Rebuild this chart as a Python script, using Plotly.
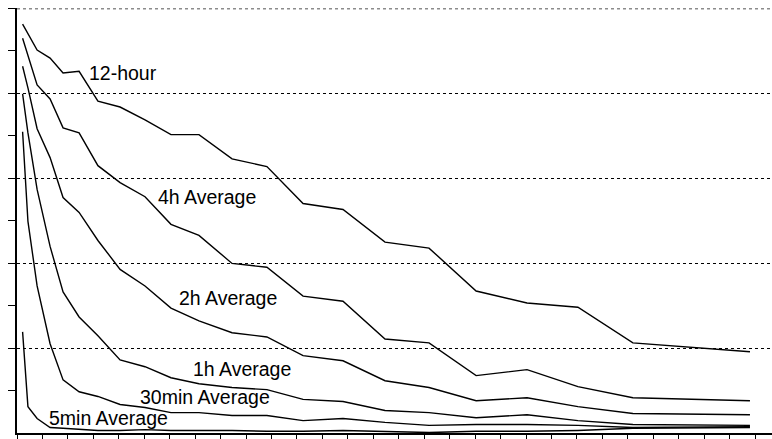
import plotly.graph_objects as go

# x positions (axis units, one tick per unit)
x_vals = [0.22, 0.43, 0.79, 1.30, 1.81, 2.44, 3.18, 4.05, 5.03, 6.05, 7.15,
          8.45, 9.82, 11.24, 12.81, 14.46, 16.19, 18.04, 20.04, 22.04, 24.2, 28.8]

h12 = [96.3, 94.1, 90.2, 88.3, 84.8, 85.2, 78.2, 76.8, 73.8, 70.3, 70.3,
       64.6, 62.8, 54.1, 52.7, 45.0, 43.6, 33.5, 30.7, 29.7, 21.3, 19.2]
h4 = [93.0, 88.8, 82.0, 78.7, 71.9, 70.7, 63.0, 59.0, 55.7, 49.2, 46.6,
      40.0, 39.1, 32.3, 31.1, 22.2, 21.3, 13.6, 15.0, 11.0, 8.4, 7.7]
h2 = [86.4, 81.3, 71.7, 64.9, 55.5, 52.0, 45.4, 38.6, 34.7, 29.5, 26.5,
      23.7, 22.7, 18.3, 17.1, 12.4, 10.8, 7.7, 8.4, 6.3, 4.7, 4.4]
h1 = [79.9, 70.7, 57.4, 44.0, 33.3, 27.4, 23.0, 17.3, 15.7, 13.1, 11.7,
      10.8, 10.3, 8.0, 7.5, 5.4, 4.9, 3.7, 4.4, 3.0, 2.1, 1.9]
m30 = [71.0, 49.9, 34.7, 21.1, 12.6, 9.8, 8.7, 6.8, 6.1, 4.9, 4.9,
       4.2, 4.2, 3.0, 3.5, 2.6, 1.9, 2.1, 2.1, 1.9, 1.4, 1.6]
m5 = [23.9, 6.3, 3.5, 1.4, 1.2, 0.9, 0.7, 0.7, 0.9, 0.7, 0.7,
      0.7, 0.5, 0.5, 0.7, 0.5, 0.2, 0.5, 0.5, 0.7, 1.2, 1.4]

series_names = ["12-hour", "4h Average", "2h Average", "1h Average", "30min Average", "5min Average"]
series_values = [h12, h4, h2, h1, m30, m5]

label_x = [4.17, 7.47, 8.29, 8.84, 7.39, 3.58]
label_y = [84.8, 55.7, 31.8, 15.2, 8.6, 3.6]

FONT = "Arial, 'Liberation Sans', sans-serif"

fig = go.Figure()
for name, vals in zip(series_names, series_values):
    fig.add_trace(go.Scatter(x=x_vals, y=vals, mode="lines", name=name,
                             line=dict(color="black", width=1.4),
                             showlegend=False, hoverinfo="skip"))

for name, lx, ly in zip(series_names, label_x, label_y):
    fig.add_annotation(x=lx, y=ly, xref="x", yref="y", text=name, showarrow=False,
                       font=dict(family=FONT, size=19.5, color="black"),
                       xanchor="center", yanchor="middle")

# gridlines via an overlaid axis
fig.add_trace(go.Scatter(x=[None], y=[None], yaxis="y2", showlegend=False, hoverinfo="skip"))

# gray top border line
fig.add_shape(type="line", xref="paper", yref="y", x0=0, x1=1, y0=100, y1=100,
              line=dict(color="#8c8c8c", width=2, dash="dot"), layer="above")

Y_RANGE = [0.1, 100.1]

fig.update_layout(
    width=772, height=439,
    margin=dict(l=17, r=0, t=8, b=4),
    paper_bgcolor="white", plot_bgcolor="white",
    font=dict(family=FONT),
    xaxis=dict(range=[0, 755 / 25.45], tick0=0, dtick=1, ticks="outside", ticklen=6,
               tickcolor="black", tickwidth=1, showticklabels=False, showgrid=False,
               zeroline=False, showline=True, linecolor="black", linewidth=2),
    yaxis=dict(range=Y_RANGE, tick0=0, dtick=10, ticks="outside", ticklen=7,
               tickcolor="black", tickwidth=1, showticklabels=False, showgrid=False,
               zeroline=False, showline=True, linecolor="black", linewidth=2),
    yaxis2=dict(overlaying="y", matches="y", range=Y_RANGE, tickmode="array",
                tickvals=[20, 40, 60, 80], showticklabels=False, ticks="",
                showgrid=True, gridcolor="black", gridwidth=1, griddash="dot",
                zeroline=False, showline=False),
)

fig.write_html("out.html", config={"displayModeBar": False},
               post_script="document.body.style.margin='0';document.body.style.overflow='hidden';")
